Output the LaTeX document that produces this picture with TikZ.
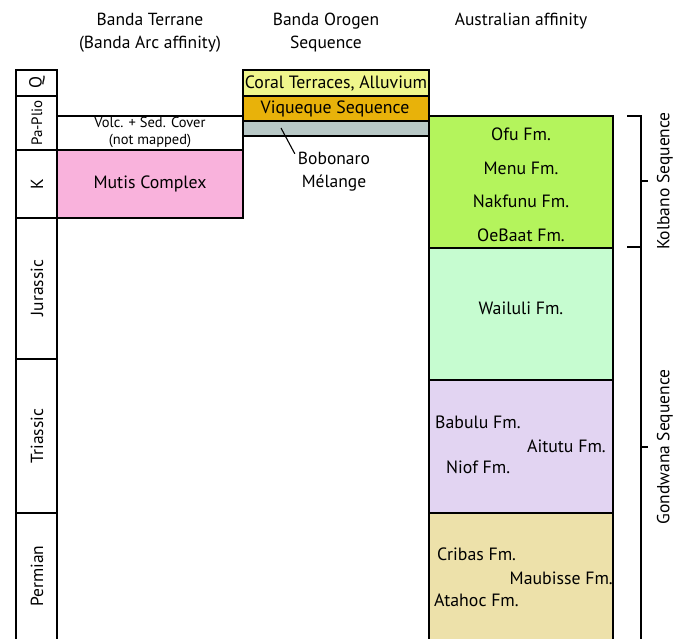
\documentclass[tikz,border=0pt]{standalone}
\usepackage{fontspec}
\setmainfont{PT Sans}
\definecolor{coral}{RGB}{240,246,140}
\definecolor{viq}{RGB}{232,178,10}
\definecolor{bob}{RGB}{184,200,198}
\definecolor{mutis}{RGB}{249,178,220}
\definecolor{kolb}{RGB}{180,244,92}
\definecolor{wail}{RGB}{198,252,208}
\definecolor{tria}{RGB}{226,212,242}
\definecolor{perm}{RGB}{237,225,170}
\tikzset{
  hdr/.style={font=\fontsize{17.5}{23}\selectfont, align=center, inner sep=0pt},
  lbl/.style={font=\fontsize{17.8}{20}\selectfont, inner sep=0pt},
  small/.style={font=\fontsize{14.5}{17}\selectfont, align=center, inner sep=0pt},
  age/.style={font=\fontsize{17.5}{20}\selectfont, rotate=90, inner sep=0pt},
  ln/.style={line width=1.3pt, black}
}
\begin{document}
\begin{tikzpicture}[x=1pt,y=-1pt]
\useasboundingbox (0,0) rectangle (683,639);
% headers
\node[hdr] (h1) at (150,32.5) {Banda Terrane\\(Banda Arc affinity)};
\node[hdr] (h2) at (326,32.5) {Banda Orogen\\Sequence};
\node[hdr] (h3) at (521,21) {Australian affinity};
% fills
\fill[mutis] (57,150) rectangle (243,218);
\fill[coral] (243,70) rectangle (429,96);
\fill[viq] (243,96) rectangle (429,121);
\fill[bob] (243,121) rectangle (429,136);
\fill[kolb] (429,116) rectangle (613,248);
\fill[wail] (429,248) rectangle (613,380);
\fill[tria] (429,380) rectangle (613,513);
\fill[perm] (429,513) rectangle (613,639);
% time column
\draw[ln] (16,639) -- (16,70) -- (57,70) -- (57,639);
\foreach \yy in {96,150,218,359,513} \draw[ln] (16,\yy) -- (57,\yy);
% Banda terrane
\draw[ln] (57,116) -- (243,116);
\draw[ln] (57,150) rectangle (243,218);
\draw[ln] (243,116) -- (243,150);
% orogen
\draw[ln] (243,70) rectangle (429,136);
\draw[ln] (243,96) -- (429,96);
\draw[ln] (243,121) -- (429,121);
% australian
\draw[ln] (429,639) -- (429,116) -- (613,116) -- (613,639);
\foreach \yy in {248,380,513} \draw[ln] (429,\yy) -- (613,\yy);
% brackets
\draw[line width=1.2pt] (627,116) -- (641,116) -- (641,639);
\draw[line width=1.2pt] (627,247) -- (641,247);
\draw[line width=1.2pt] (641,181) -- (648,181);
\draw[line width=1.2pt] (641,447) -- (648,447);
\node[age] (kol) at (665,181) {Kolbano Sequence};
\node[age] (gon) at (665,447) {Gondwana Sequence};
% ages
\node[age] (q) at (37,83) {Q};
\node[age, font=\fontsize{15}{18}\selectfont] (pp) at (37,123) {Pa-Plio};
\node[age] (k) at (37,184) {K};
\node[age] (ju) at (37,288) {Jurassic};
\node[age] (tr) at (37,436) {Triassic};
\node[age] (pe) at (37,576) {Permian};
% banda terrane labels
\node[small] (volc) at (150,132.5) {Volc. + Sed. Cover\\(not mapped)};
\node[lbl] (mut) at (150,184) {Mutis Complex};
% orogen labels
\node[lbl] (cor) at (336,83) {Coral Terraces, Alluvium};
\node[lbl] (viqt) at (335,108.5) {Viqueque Sequence};
\node[lbl, align=center, font=\fontsize{17.5}{23}\selectfont] (bobt) at (334,171.5) {Bobonaro\\Mélange};
\coordinate (bp) at (281,128);
\draw[line width=1.1pt] (bp) -- ([xshift=-3pt,yshift=-2pt]bobt.north west);
% australian labels
\node[lbl] (ofu) at (521,134) {Ofu Fm.};
\node[lbl] (men) at (521,168) {Menu Fm.};
\node[lbl] (nak) at (521,201) {Nakfunu Fm.};
\node[lbl] (oeb) at (521,235) {OeBaat Fm.};
\node[lbl] (wai) at (521,308) {Wailuli Fm.};
\node[lbl, anchor=west] (bab) at (435,422) {Babulu Fm.};
\node[lbl, anchor=east] (ait) at (606,446) {Aitutu Fm.};
\node[lbl, anchor=west] (nio) at (446,467) {Niof Fm.};
\node[lbl, anchor=west] (cri) at (437,554) {Cribas Fm.};
\node[lbl, anchor=east] (mau) at (613,578) {Maubisse Fm.};
\node[lbl, anchor=west] (ata) at (434,600) {Atahoc Fm.};
\end{tikzpicture}
\end{document}
